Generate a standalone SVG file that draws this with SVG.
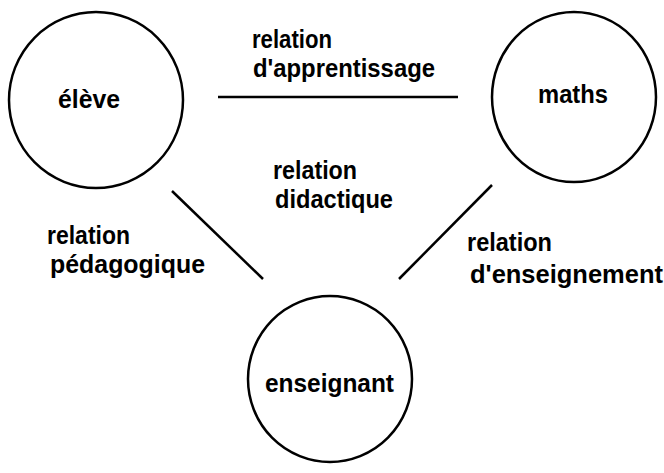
<svg xmlns="http://www.w3.org/2000/svg" width="664" height="473" viewBox="0 0 664 473">
<style>
.node{fill:none;stroke:#000;stroke-width:2.5}
.edge{stroke:#000;stroke-width:2.5;fill:none}
text{font-family:"Liberation Sans",Arial,sans-serif;font-size:25px;font-weight:bold;fill:#000}
</style>
<rect width="664" height="473" fill="#fff"/>
<g id="eleve"><ellipse class="node" cx="96" cy="100" rx="87" ry="88"/><text x="58" y="108" textLength="62" lengthAdjust="spacingAndGlyphs">élève</text></g>
<g id="maths"><ellipse class="node" cx="574" cy="97" rx="82" ry="85"/><text x="538" y="103" textLength="70" lengthAdjust="spacingAndGlyphs">maths</text></g>
<g id="enseignant"><ellipse class="node" cx="330" cy="379" rx="82" ry="83"/><text x="265" y="392" textLength="129" lengthAdjust="spacingAndGlyphs">enseignant</text></g>
<g id="connectors">
<line class="edge" x1="218" y1="97" x2="458" y2="97"/>
<line class="edge" x1="172" y1="191" x2="263" y2="279"/>
<line class="edge" x1="492" y1="185" x2="399" y2="279"/>
</g>
<g id="labels">
<text x="252" y="48" textLength="80" lengthAdjust="spacingAndGlyphs">relation</text>
<text x="253" y="77" textLength="182" lengthAdjust="spacingAndGlyphs">d'apprentissage</text>
<text x="273" y="179" textLength="84" lengthAdjust="spacingAndGlyphs">relation</text>
<text x="275" y="208" textLength="118" lengthAdjust="spacingAndGlyphs">didactique</text>
<text x="47" y="244" textLength="83" lengthAdjust="spacingAndGlyphs">relation</text>
<text x="50" y="273" textLength="155" lengthAdjust="spacingAndGlyphs">pédagogique</text>
<text x="467" y="251" textLength="85" lengthAdjust="spacingAndGlyphs">relation</text>
<text x="470" y="283" textLength="193" lengthAdjust="spacingAndGlyphs">d'enseignement</text>
</g>
</svg>
